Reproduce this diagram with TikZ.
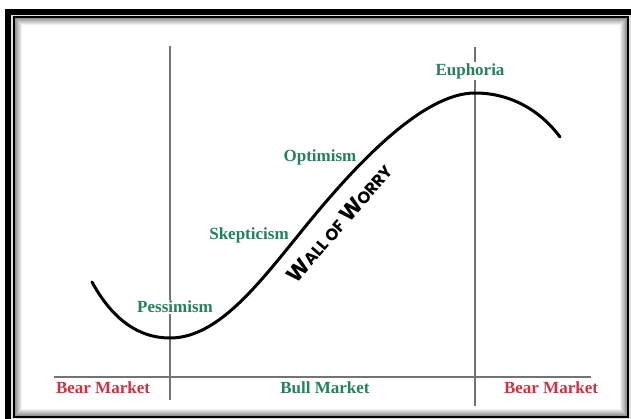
\documentclass[tikz,border=0pt]{standalone}
\usepackage{fontspec}
\setmainfont{Liberation Serif}
\newfontfamily\wallfont{Poppins}
\definecolor{moodgreen}{RGB}{38,128,92}
\definecolor{bearred}{RGB}{205,52,66}
\newcommand\bigW{{\fontsize{22}{22}\selectfont W}}
\newcommand\smallcapstext[1]{{\fontsize{16.5}{16.5}\selectfont #1}}
\begin{document}
\begin{tikzpicture}[x=1pt,y=-1pt,
  phase/.style={text=moodgreen,font=\fontsize{17}{17}\selectfont\bfseries},
  market/.style={font=\fontsize{17}{17}\selectfont\bfseries},
  guide/.style={draw=black!55,line width=1.3pt},
  pricecurve/.style={line width=3pt,line cap=round}]
\useasboundingbox (0,0) rectangle (631,419);
\fill[white] (0,0) rectangle (631,419);
% picture frame: thick outer band, light gap, thin inner rule, soft inner shadow
\fill[black] (5,9) rectangle (700,500);
\fill[black!12] (11,15) rectangle (700,500);
\draw[line width=2pt,fill=white] (14,17) rectangle (628,417);
\foreach \i in {1,...,8}{
  \pgfmathsetmacro\shadeval{48-6*\i}
  \draw[black!\shadeval,line width=1pt]
    (14.5+\i,17.5+\i) rectangle (627.5-\i,416.5-\i);
}
% guide lines
\coordinate (lt) at (170,46);
\coordinate (lb) at (170,400);
\coordinate (rt) at (475,47);
\coordinate (rb) at (475,406);
\coordinate (al) at (54,377);
\coordinate (ar) at (591,377);
\draw[guide] (lt) -- (lb);
\draw[guide] (rt) -- (rb);
\draw[guide] (al) -- (ar);
% market cycle curve
\draw[pricecurve] (92,282) .. controls (110,315) and (135,338) .. (170,338)
  .. controls (222,338) and (265,275) .. (314,216)
  .. controls (372,146) and (430,93) .. (475,93)
  .. controls (510,93) and (540,110) .. (560,137);
% wall of worry, set under the rising part of the curve
\node[rotate=49,inner sep=0pt] (wall) at (339.5,223)
  {\wallfont\bfseries\bigW\smallcapstext{ALL OF }\bigW\smallcapstext{ORRY}};
% sentiment labels
\node[phase,fill=white,inner sep=1pt] (euph) at (470,71) {Euphoria};
\node[phase] (opt) at (320,157) {Optimism};
\node[phase] (skep) at (249,235) {Skepticism};
\node[phase,fill=white,inner sep=1pt] (pess) at (175,307) {Pessimism};
% market phases
\node[market,text=bearred] (bearl) at (103,388) {Bear Market};
\node[market,text=moodgreen] (bull) at (325,388) {Bull Market};
\node[market,text=bearred] (bearr) at (551,388) {Bear Market};
\end{tikzpicture}
\end{document}
